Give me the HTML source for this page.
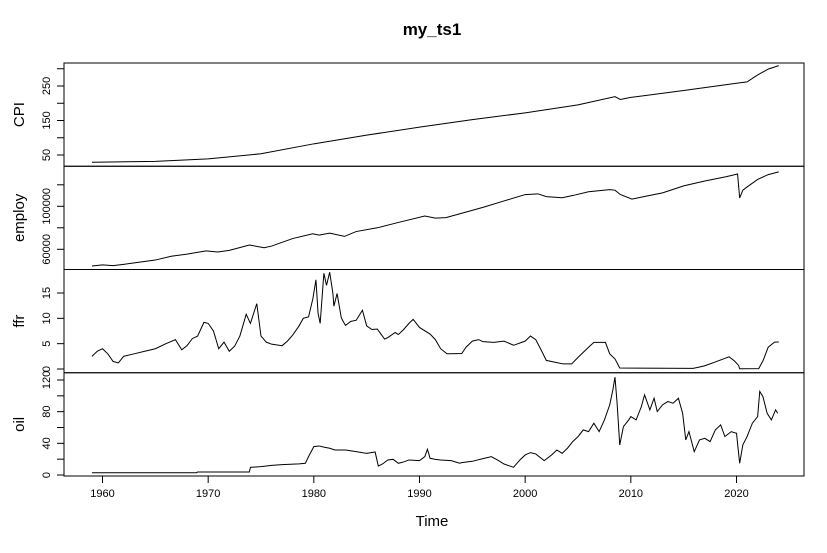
<!DOCTYPE html>
<html><head><meta charset="utf-8"><style>
html,body{margin:0;padding:0;background:#fff;}
svg{display:block;font-family:"Liberation Sans",Arial,sans-serif;}
</style></head><body>
<svg id="chart" width="827" height="553" viewBox="0 0 827 553" xmlns="http://www.w3.org/2000/svg">
<rect width="827" height="553" fill="#fff"/>
<text x="432" y="35" text-anchor="middle" font-size="17" font-weight="bold">my_ts1</text>
<text x="432" y="526" text-anchor="middle" font-size="15">Time</text>
<g id="plot"></g>
</svg>
<script>
// ---- data ----
const xTickYears = [1960,1970,1980,1990,2000,2010,2020];
const cpiYears = [1959,1965,1970,1975,1980,1985,1990,1995,2000,2005,2008.5,2009,2010,2015,2020,2021,2022,2023,2024];
const cpiValues = [29,31.5,38.8,53.6,82.4,107.6,130.7,152.4,172.2,195.3,219,211,217,237,258,262,282,299,309];
const employYears = [1959,1960,1961,1962,1965,1966.5,1968,1969.8,1970.9,1972,1973.9,1975.3,1976,1978,1979.9,1980.5,1981.5,1982.9,1984,1986,1988,1990.5,1991.5,1992.5,1994,1996,1998,2000,2001.2,2002,2003.5,2004.5,2006,2008,2008.5,2009,2010.1,2011,2013,2015,2017,2019,2020.1,2020.3,2020.6,2021,2022,2023,2024];
const employValues = [44500,45500,44800,46000,50000,53500,55500,58500,57500,59000,64000,61500,63000,70000,74500,73200,75000,72000,76500,80000,85000,91000,89000,89500,93500,99000,105000,110900,111600,109000,108000,110000,113500,115500,115000,111000,106700,108500,112500,119000,123500,127500,130000,107800,115000,118000,125000,129500,132000];
const ffrYears = [1959,1959.5,1960,1960.5,1961,1961.5,1962,1963,1964,1965,1966,1966.9,1967.5,1968,1968.5,1969,1969.6,1970,1970.5,1971,1971.5,1972,1972.5,1973,1973.6,1974,1974.6,1975,1975.5,1976,1977,1977.5,1978,1978.6,1979,1979.5,1979.9,1980.2,1980.4,1980.6,1980.95,1981.2,1981.5,1981.8,1981.9,1982.2,1982.6,1982.8,1983,1983.5,1984,1984.6,1985,1985.5,1986,1986.7,1987,1987.7,1988,1988.5,1989,1989.4,1990,1991,1991.5,1992,1992.6,1993,1994,1994.4,1995,1995.6,1996,1997,1998,1998.9,1999,1999.6,2000,2000.5,2001,2001.5,2002,2003,2003.6,2004.4,2005,2006,2006.5,2007.6,2008,2008.5,2008.95,2015.9,2016.5,2017,2018,2019.3,2019.8,2020.2,2020.3,2022.1,2022.5,2023,2023.6,2024];
const ffrValues = [2.5,3.5,4.0,3.0,1.5,1.2,2.5,3.0,3.5,4.0,5.0,5.8,3.8,4.6,6.0,6.5,9.2,9.0,7.5,4.0,5.3,3.5,4.5,6.5,10.8,9.0,12.9,6.5,5.3,4.9,4.6,5.5,6.7,8.5,10.0,10.3,13.8,17.6,11,9.0,18.9,16.5,19.1,15.0,12.4,14.9,10.1,9.3,8.6,9.4,9.6,11.6,8.5,7.8,7.9,5.9,6.2,7.2,6.8,7.8,9.0,9.8,8.2,6.9,5.8,4.0,3.0,3.0,3.05,4.3,5.5,5.8,5.4,5.25,5.5,4.7,4.75,5.2,5.5,6.5,5.8,3.8,1.7,1.25,1.0,1.0,2.3,4.3,5.25,5.25,3.0,2.0,0.2,0.12,0.4,0.65,1.4,2.4,1.6,0.7,0.05,0.08,1.6,4.3,5.3,5.33];
const oilYears = [1959,1968.9,1969,1973.9,1974,1975,1976,1977,1978.6,1979.2,1979.5,1980,1980.5,1981,1981.5,1982,1983,1984,1985,1985.8,1986.1,1986.5,1987,1987.5,1988,1988.5,1989,1990,1990.5,1990.75,1991,1991.5,1992,1993,1993.8,1994,1995,1996,1996.8,1997.5,1998,1998.9,1999.5,2000,2000.5,2001,2001.8,2002.5,2003,2003.5,2004,2004.5,2005,2005.5,2006,2006.5,2007,2007.5,2008,2008.3,2008.5,2008.7,2008.95,2009.3,2009.8,2010,2010.5,2011,2011.3,2011.8,2012.2,2012.5,2013,2013.5,2014,2014.5,2014.9,2015.2,2015.5,2016,2016.5,2017,2017.5,2018,2018.5,2018.9,2019.5,2020,2020.3,2020.6,2021,2021.5,2022,2022.2,2022.5,2022.9,2023.3,2023.7,2023.9];
const oilValues = [2.9,2.9,3.8,3.8,9.7,10.6,12.2,13.1,14,14.8,23.2,35.9,36.7,35,33.8,31.6,31.6,29.5,27.4,29.1,11.4,13.9,19,19.8,14.8,16.5,19,18.1,23.2,32.5,21.1,19.8,19,18.1,14.8,15.6,17.3,20.7,23.2,18.1,13.9,9.7,19,25.3,28.3,26.6,18.1,25.3,31.6,27.4,33.8,42.2,48.5,57,54.8,65.4,54.8,69.6,88.6,107.6,123.6,90.7,38,61.2,69.6,73.8,69.6,86.5,101.3,82.3,97,80.2,88.6,92.8,90.7,97,78,44.3,54.8,29.5,44.3,46.4,42.2,57,63.3,48.5,54.8,52.7,14.8,38,48.5,65.4,73.8,105.5,99,78,69.6,82.3,78];
const cpiTicks = [50,100,150,200,250,300];
const cpiTickLabels = ["50","","150","","250",""];
const employTicks = [60000,80000,100000,120000];
const employTickLabels = ["60000","","100000",""];
const ffrTicks = [0,5,10,15];
const ffrTickLabels = ["0","5","10","15"];
const oilTicks = [0,20,40,60,80,100,120];
const oilTickLabels = ["0","","40","","80","","120"];

// ---- layout ----
const NS="http://www.w3.org/2000/svg";
const g=document.getElementById('plot');
const L=64,R=804,T=63,B=476,PH=(B-T)/4;
function xScale(yr){return 102.5+(yr-1960)*10.5667;}
function mk(tag,attrs){const e=document.createElementNS(NS,tag);for(const k in attrs)e.setAttribute(k,attrs[k]);g.appendChild(e);return e;}

const panels=[
 {name:'cpi',label:'CPI',yrs:cpiYears,vals:cpiValues,ticks:cpiTicks,tl:cpiTickLabels,v0:50,p0:155,v1:250,p1:86},
 {name:'employ',label:'employ',yrs:employYears,vals:employValues,ticks:employTicks,tl:employTickLabels,v0:60000,p0:249.3,v1:100000,p1:206.3},
 {name:'ffr',label:'ffr',yrs:ffrYears,vals:ffrValues,ticks:ffrTicks,tl:ffrTickLabels,v0:0,p0:369,v1:15,p1:293},
 {name:'oil',label:'oil',yrs:oilYears,vals:oilValues,ticks:oilTicks,tl:oilTickLabels,v0:0,p0:475,v1:120,p1:380}
];
panels.forEach((p,i)=>{
  const top=T+i*PH, bot=top+PH;
  const yS=v=>p.p0+(v-p.v0)*(p.p1-p.p0)/(p.v1-p.v0);
  const box=mk('rect',{x:L,y:top,width:R-L,height:PH,fill:'none',stroke:'#000','stroke-width':1});
  
  
  let d='';
  p.yrs.forEach((yr,j)=>{d+=(j?'L':'M')+xScale(yr).toFixed(2)+','+yS(p.vals[j]).toFixed(2);});
  const line=mk('path',{d:d,fill:'none',stroke:'#000','stroke-width':1});
  
  
  p.ticks.forEach((t,j)=>{
    const y=yS(t);
    if(y<top-0.5||y>bot+0.5)return;
    const tk=mk('line',{x1:L-7,x2:L,y1:y,y2:y,stroke:'#000'});
    
    
    if(p.tl[j]){
      const tx=mk('text',{x:0,y:0,transform:`translate(50,${y}) rotate(-90)`,'text-anchor':'middle','font-size':11});
      tx.textContent=p.tl[j];
      
      
    }
  });
  const yl=mk('text',{x:0,y:0,transform:`translate(24,${(top+bot)/2}) rotate(-90)`,'text-anchor':'middle','font-size':15});
  yl.textContent=p.label;
  
  
});
xTickYears.forEach(yr=>{
  const x=xScale(yr);
  const tk=mk('line',{x1:x,x2:x,y1:B,y2:B+7,stroke:'#000'});
  
  
  const tx=mk('text',{x:x,y:B+21,'text-anchor':'middle','font-size':11});
  tx.textContent=String(yr);
  
  
});
const ax=mk('line',{x1:xScale(1960),x2:xScale(2020),y1:B,y2:B,stroke:'#000'});


</script>
</body></html>
